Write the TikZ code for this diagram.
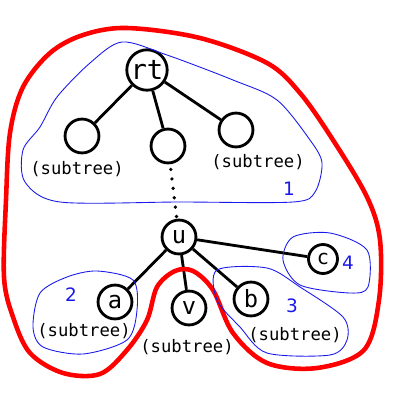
\documentclass[tikz,border=0pt]{standalone}
\usepackage{fontspec}
\setmainfont{DejaVu Sans Mono}
\newfontfamily\numfont{DejaVu Sans}
\usepackage{xcolor}
\usetikzlibrary{arrows.meta,positioning}

\definecolor{regblue}{RGB}{25,25,235}

\begin{document}
\begin{tikzpicture}[x=0.02cm,y=-0.02cm,
  vtx/.style={circle,draw,line width=1.6pt,inner sep=0pt,minimum size=19.3pt,font=\fontsize{13.5}{13.5}\selectfont},
  edge/.style={line width=1.6pt},
  sub/.style={font=\fontsize{9.8}{10}\selectfont},
  num/.style={text=regblue,font=\numfont\fontsize{10.5}{10.5}\selectfont}]
  \useasboundingbox (0,0) rectangle (400,413);
  % Tree nodes
  \node[vtx,minimum size=23pt,font=\fontsize{15.5}{15.5}\selectfont] (rt) at (147,70) {rt};
  \node[vtx] (ch1) at (82,136) {};
  \node[vtx] (ch2) at (168,146) {};
  \node[vtx] (ch3) at (236,130) {};
  \node[vtx] (u) at (179,237) {u};
  \node[vtx] (a) at (115,302) {a};
  \node[vtx] (v) at (189,308) {v};
  \node[vtx] (b) at (251,299) {b};
  \node[vtx,minimum size=16.5pt,font=\fontsize{11.5}{11.5}\selectfont] (c) at (323,259) {c};
  % Edges
  \draw[edge] (rt) -- (ch1);
  \draw[edge] (rt) -- (ch2);
  \draw[edge] (rt) -- (ch3);
  \draw[line width=2.1pt,line cap=round,dash pattern=on 0pt off 5.4pt,shorten <=3pt] (ch2) -- (u);
  \draw[edge] (u) -- (a);
  \draw[edge] (u) -- (v);
  \draw[edge] (u) -- (b);
  \draw[edge] (u) -- (c);
  % Subtree labels
  \node[sub] (st1) at (77,169) {(subtree)};
  \node[sub] (st3) at (258,162) {(subtree)};
  \node[sub] (sta) at (84,331) {(subtree)};
  \node[sub] (stv) at (187,347) {(subtree)};
  \node[sub] (stb) at (295,335) {(subtree)};
  % Red region
  \draw[red,line width=2.6pt,smooth cycle,tension=0.55] plot coordinates {
    (127,28) (200,38) (267,63) (300,93) (333,140) (367,197) (380,240) (379,300)
    (364,350) (317,368) (267,363) (233,333) (213,290) (193,271) (175,271)
    (157,287) (147,320) (127,350) (100,374) (63,373) (30,353) (13,317) (4,277)
    (6,200) (10,133) (23,87) (50,53) (83,35)
  };
  % Blue regions
  \draw[regblue,line width=0.5pt,smooth cycle,tension=0.5] plot coordinates {
    (122,42) (167,55) (233,80) (277,100) (310,140) (322,163) (315,192) (293,202)
    (180,202) (60,202) (25,182) (23,150) (40,127) (57,97) (90,63)
  };
  \draw[regblue,line width=0.5pt,smooth cycle,tension=0.5] plot coordinates {
    (97,271) (133,280) (137,310) (127,340) (83,354) (43,347) (33,327) (40,293) (67,277)
  };
  \draw[regblue,line width=0.5pt,smooth cycle,tension=0.5] plot coordinates {
    (217,270) (267,268) (300,287) (343,317) (347,340) (330,355) (267,353) (240,327) (217,300)
  };
  \draw[regblue,line width=0.5pt,smooth cycle,tension=0.5] plot coordinates {
    (330,233) (367,250) (368,287) (350,293) (300,285) (283,260) (293,237)
  };
  % Region numbers
  \node[num] (n1) at (289,189) {1};
  \node[num] (n2) at (71,295) {2};
  \node[num] (n3) at (292,306) {3};
  \node[num] (n4) at (348,263) {4};
\end{tikzpicture}
\end{document}
